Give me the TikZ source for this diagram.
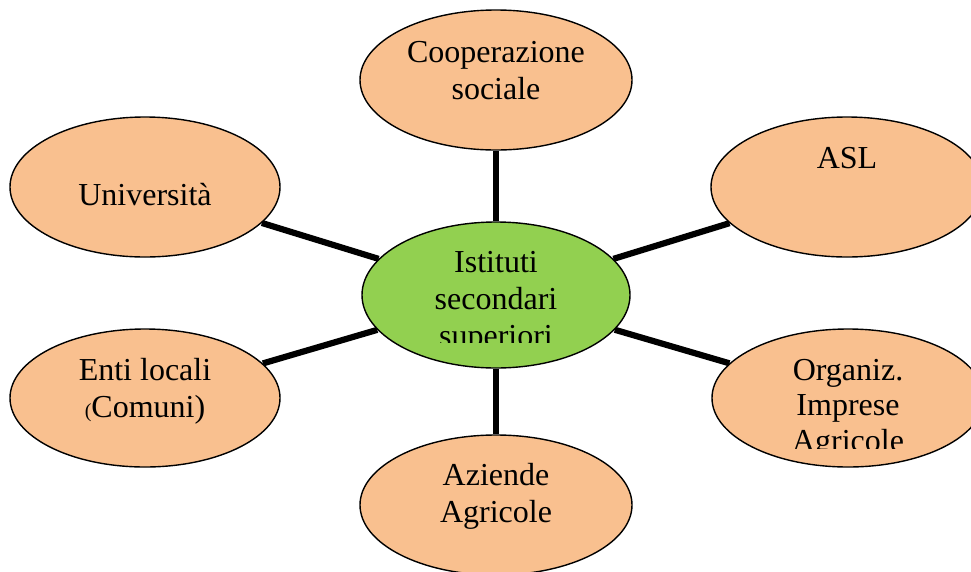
\documentclass[tikz,border=0pt]{standalone}
\usepackage{fontspec}
\setmainfont{Liberation Serif}
\usetikzlibrary{shapes.geometric}
\pgfdeclarelayer{background}
\pgfsetlayers{background,main}
\definecolor{peach}{HTML}{F9C08F}
\definecolor{leaf}{HTML}{92D050}
\newcommand{\lbl}[1]{\fontsize{32}{37}\selectfont\begin{tabular}[t]{@{}c@{}}#1\end{tabular}}
\tikzset{
  bubble/.style={ellipse, draw=black, line width=1.4pt, fill=peach, inner sep=0pt,
                 minimum width=272pt, minimum height=140pt},
  hub/.style={bubble, fill=leaf, minimum width=268pt, minimum height=146pt},
  link/.style={line width=6.2pt, draw=black},
  lbltext/.style={anchor=base, inner sep=0pt, text=black}
}
\begin{document}
\begin{tikzpicture}[x=1pt,y=-1pt]
\useasboundingbox (0,0) rectangle (971,571);
% ellipses
\node[hub]    (cen)  at (496,295) {};
\node[bubble] (coop) at (496,80)  {};
\node[bubble] (asl)  at (847,187) {};
\node[bubble, minimum width=270pt] (univ) at (145,187) {};
\node[bubble, minimum width=270pt, minimum height=138pt] (enti) at (145,398) {};
\node[bubble, minimum height=138pt] (org)  at (848,398) {};
\node[bubble] (azi)  at (496,505) {};
% connectors
\begin{pgfonlayer}{background}
\foreach \n in {coop,asl,univ,enti,org,azi}{
  \draw[link] (cen) -- (\n);
}
\end{pgfonlayer}
% labels
\node[lbltext] (tcoop) at (496,62)  {\lbl{Cooperazione\\sociale}};
\node[lbltext] (tasl)  at (847,168) {\lbl{ASL}};
\node[lbltext] (tuniv) at (145,205) {\lbl{Università}};
\node[lbltext] (tenti) at (145,380) {\lbl{Enti locali\\{\fontsize{20}{24}\selectfont(}Comuni)}};
\node[lbltext] (tazi)  at (496,485) {\lbl{Aziende\\Agricole}};
\begin{scope}
  \clip (362,222) rectangle (630,342);
  \node[lbltext] (tcen) at (496,272) {\lbl{Istituti\\secondari\\superiori}};
\end{scope}
\begin{scope}
  \clip (712,330) rectangle (971,448);
  \node[lbltext] (torg) at (848,380) {\fontsize{32}{35.5}\selectfont\begin{tabular}[t]{@{}c@{}}Organiz.\\Imprese\\Agricole\end{tabular}};
\end{scope}
\end{tikzpicture}
\end{document}
